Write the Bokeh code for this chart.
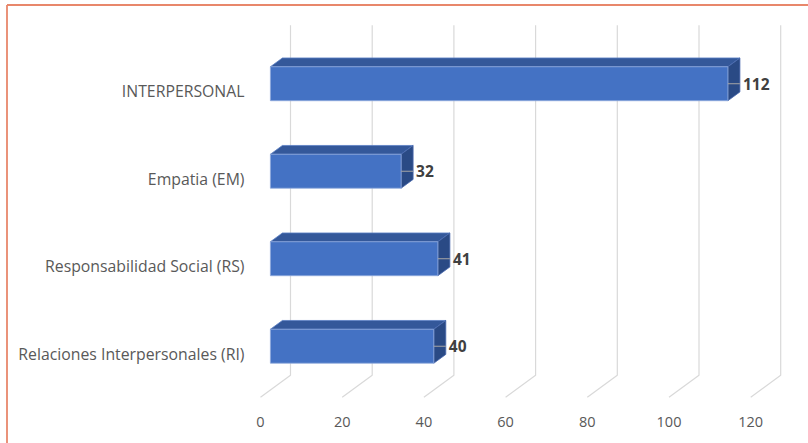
from bokeh.plotting import figure
from bokeh.models import Range1d
from bokeh.embed import file_html
from bokeh.resources import INLINE
from bokeh.core.properties import value

# ---- data ----
categories = ["INTERPERSONAL", "Empatia (EM)", "Responsabilidad Social (RS)",
              "Relaciones Interpersonales (RI)"]
values = [112, 32, 41, 40]
x_ticks = [0, 20, 40, 60, 80, 100, 120]
x_tick_labels = ["0", "20", "40", "60", "80", "100", "120"]

# ---- geometry (pixel mapping of the 3D view) ----
W, H = 808, 443
PX_PER_UNIT = 4.085      # px per value unit on the front plane
X0_PX = 260              # px of value 0 on the front plane
ROW_PX = 87.5            # px per category
Y0_PX = 90.5             # px of first category centre on the front plane
DEPTH_DX = 30 / PX_PER_UNIT      # full depth shift, in value units
DEPTH_DY = -22 / ROW_PX          # full depth shift, in category units
D1, D2 = 0.33, 0.73              # bar front / back depth
HALF = 0.194                     # half bar height in category units
FONT = "Open Sans"


def proj(v, i, d):
    return v + d * DEPTH_DX, i + d * DEPTH_DY


p = figure(width=W, height=H, output_backend="svg", toolbar_location=None,
           x_range=Range1d(-X0_PX / PX_PER_UNIT, (W - X0_PX) / PX_PER_UNIT),
           y_range=Range1d((H - Y0_PX) / ROW_PX, -Y0_PX / ROW_PX),
           min_border=0, x_axis_type=None, y_axis_type=None)
p.outline_line_color = None
p.background_fill_color = "white"
p.border_fill_color = "white"

n = len(categories)
top_i, bot_i = -0.5, n - 0.5

# ---- gridlines: back wall + floor diagonal ----
gx, gy = [], []
for t in x_ticks:
    a = proj(t, top_i, 1)
    b = proj(t, bot_i, 1)
    c = proj(t, bot_i, 0)
    gx.append([a[0], b[0], c[0]])
    gy.append([a[1], b[1], c[1]])
p.multi_line(gx, gy, line_color="#D9D9D9", line_width=1.2)

# ---- x tick labels ----
tick_y = (421 - Y0_PX) / ROW_PX
p.text(x=x_ticks, y=[tick_y] * len(x_ticks), text=x_tick_labels,
       text_font=value(FONT), text_font_size="14.5px", text_color="#595959",
       text_align="center", text_baseline="middle")

# ---- category labels ----
p.text(x=[-16 / PX_PER_UNIT] * n, y=list(range(n)), text=categories,
       text_font=value(FONT), text_font_size="15.8px", text_color="#595959",
       text_align="right", text_baseline="middle")

# ---- bars ----
fx, fy, tx, ty, sx, sy = [], [], [], [], [], []
for i, v in enumerate(values):
    pts = [proj(0, i - HALF, D1), proj(v, i - HALF, D1),
           proj(v, i + HALF, D1), proj(0, i + HALF, D1)]
    fx.append([q[0] for q in pts]); fy.append([q[1] for q in pts])
    pts = [proj(0, i - HALF, D1), proj(v, i - HALF, D1),
           proj(v, i - HALF, D2), proj(0, i - HALF, D2)]
    tx.append([q[0] for q in pts]); ty.append([q[1] for q in pts])
    pts = [proj(v, i - HALF, D1), proj(v, i + HALF, D1),
           proj(v, i + HALF, D2), proj(v, i - HALF, D2)]
    sx.append([q[0] for q in pts]); sy.append([q[1] for q in pts])

p.patches(tx, ty, fill_color="#34589A", line_color="#5B7FC4", line_width=0.8)
p.patches(sx, sy, fill_color="#2A4A85", line_color="#4A6AAE", line_width=0.8)
p.patches(fx, fy, fill_color="#4472C4", line_color="#8FAADC", line_width=0.8)

# ---- leader lines & data labels ----
lx0, ly0, lx1 = [], [], []
for i, v in enumerate(values):
    x, y = proj(v, i, D1)
    lx0.append(x); ly0.append(y); lx1.append(x + 12 / PX_PER_UNIT)
p.segment(x0=lx0, y0=ly0, x1=lx1, y1=ly0, line_color="#A6A6A6", line_width=1)
p.text(x=lx0, y=ly0, text=[str(v) for v in values], x_offset=15,
       text_font=value(FONT), text_font_size="15.5px", text_font_style="bold",
       text_color="#404040", text_align="left", text_baseline="middle")

# ---- orange frame (left + top edges) ----
bx = (6.5 - X0_PX) / PX_PER_UNIT
by = (4.5 - Y0_PX) / ROW_PX
x_right = (W - X0_PX) / PX_PER_UNIT
y_bottom = (H - Y0_PX) / ROW_PX
p.segment(x0=[bx, bx], y0=[by, by], x1=[bx, x_right], y1=[y_bottom, by],
          line_color="#E8876B", line_width=1.8)

open("out.html", "w").write(file_html(p, INLINE))
